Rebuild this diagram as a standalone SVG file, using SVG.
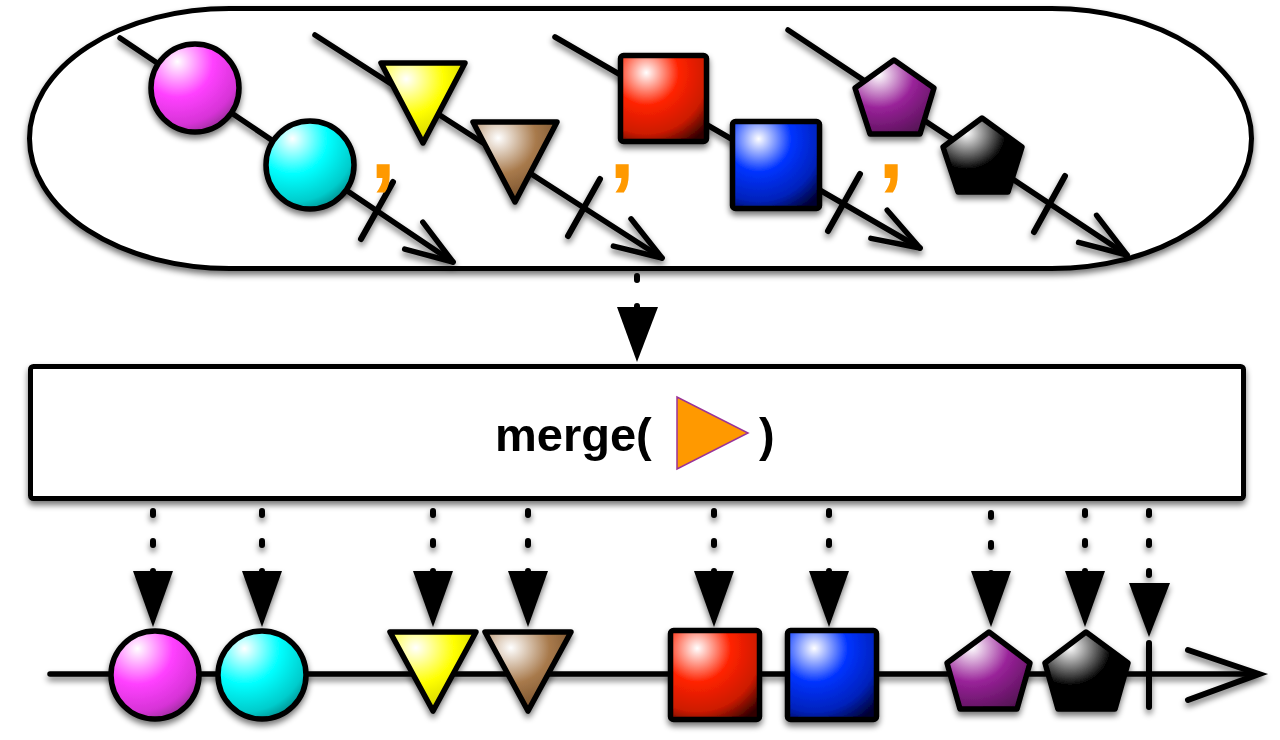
<svg xmlns="http://www.w3.org/2000/svg" width="1280" height="740" viewBox="0 0 1280 740">
<defs>
  <filter id="sh" x="-20%" y="-20%" width="140%" height="150%">
    <feGaussianBlur in="SourceAlpha" stdDeviation="3"/>
    <feOffset dx="0" dy="4" result="b"/>
    <feComponentTransfer><feFuncA type="linear" slope="0.55"/></feComponentTransfer>
    <feMerge><feMergeNode/><feMergeNode in="SourceGraphic"/></feMerge>
  </filter>
  <radialGradient id="gMag" cx="0.3" cy="0.2" r="0.9" fx="0.3" fy="0.2">
    <stop offset="0" stop-color="#ffffff"/><stop offset="0.45" stop-color="#ff40ff"/><stop offset="0.8" stop-color="#d633d6"/><stop offset="1" stop-color="#8a2a8a"/>
  </radialGradient>
  <radialGradient id="gCya" cx="0.3" cy="0.2" r="0.9" fx="0.3" fy="0.2">
    <stop offset="0" stop-color="#ffffff"/><stop offset="0.45" stop-color="#00ffff"/><stop offset="0.8" stop-color="#00cccc"/><stop offset="1" stop-color="#007f7f"/>
  </radialGradient>
  <radialGradient id="gYel" cx="0.3" cy="0.2" r="0.9" fx="0.3" fy="0.2">
    <stop offset="0" stop-color="#ffffff"/><stop offset="0.5" stop-color="#ffff00"/><stop offset="0.8" stop-color="#dddd00"/><stop offset="1" stop-color="#6f6f00"/>
  </radialGradient>
  <radialGradient id="gBro" cx="0.3" cy="0.2" r="0.9" fx="0.3" fy="0.2">
    <stop offset="0" stop-color="#ffffff"/><stop offset="0.5" stop-color="#a87a4c"/><stop offset="1" stop-color="#6a4522"/>
  </radialGradient>
  <radialGradient id="gRed" cx="0.3" cy="0.2" r="0.95" fx="0.3" fy="0.2">
    <stop offset="0" stop-color="#ffffff"/><stop offset="0.4" stop-color="#ff2200"/><stop offset="0.75" stop-color="#cc1a00"/><stop offset="1" stop-color="#330000"/>
  </radialGradient>
  <radialGradient id="gBlu" cx="0.3" cy="0.2" r="0.95" fx="0.3" fy="0.2">
    <stop offset="0" stop-color="#ffffff"/><stop offset="0.4" stop-color="#0033ff"/><stop offset="0.75" stop-color="#0022bb"/><stop offset="1" stop-color="#000033"/>
  </radialGradient>
  <radialGradient id="gPur" cx="0.3" cy="0.2" r="0.9" fx="0.3" fy="0.2">
    <stop offset="0" stop-color="#ffffff"/><stop offset="0.5" stop-color="#992299"/><stop offset="1" stop-color="#551155"/>
  </radialGradient>
  <radialGradient id="gBlk" cx="0.3" cy="0.2" r="0.9" fx="0.3" fy="0.2">
    <stop offset="0" stop-color="#ffffff"/><stop offset="0.55" stop-color="#000000"/><stop offset="1" stop-color="#000000"/>
  </radialGradient>
  <polygon id="dArrow" points="-20,0 20,0 0,56" fill="#000"/>
</defs>
<style>
  .ln{fill:none;stroke:#000;stroke-width:5.5;stroke-linecap:round;stroke-linejoin:round}
  .tk{fill:none;stroke:#000;stroke-width:6;stroke-linecap:round}
  .sh{stroke:#000;stroke-width:5.5;stroke-linejoin:round}
  .dash{fill:none;stroke:#000;stroke-width:6;stroke-linecap:round;stroke-dasharray:4 26}
  .cm{font-family:"Liberation Sans",Arial,sans-serif;font-weight:bold;font-size:92px;fill:#ff9900;text-anchor:middle}
  .lbl{font-family:"Liberation Sans",Arial,sans-serif;font-weight:bold;font-size:47px;fill:#000}
</style>

<rect width="1280" height="740" fill="#fff"/>

<g id="source-observable">
  <rect x="29.5" y="8.5" width="1222" height="260" rx="200" ry="130" fill="#fff" stroke="#000" stroke-width="5" filter="url(#sh)"/>
</g>

<g id="inner-1">
  <g filter="url(#sh)">
    <line class="ln" x1="120" y1="38" x2="453" y2="262"/>
    <polyline class="ln" points="422.8,222.1 453,262 404.7,249.1"/>
    <line class="tk" x1="361" y1="239" x2="393" y2="182"/>
  </g>
  <circle cx="195" cy="88" r="44" fill="url(#gMag)" class="sh" filter="url(#sh)"/>
  <circle cx="310" cy="165" r="44" fill="url(#gCya)" class="sh" filter="url(#sh)"/>
  <text class="cm" x="383" y="178">,</text>
</g>

<g id="inner-2">
  <g filter="url(#sh)">
    <line class="ln" x1="315" y1="35" x2="662" y2="258"/>
    <polyline class="ln" points="631,218.8 662,258 613.4,246.1"/>
    <line class="tk" x1="568" y1="236" x2="600" y2="179"/>
  </g>
  <polygon points="381,63 465,63 423,143" fill="url(#gYel)" class="sh" filter="url(#sh)"/>
  <polygon points="473,122 557,122 515,202" fill="url(#gBro)" class="sh" filter="url(#sh)"/>
  <text class="cm" x="622" y="178">,</text>
</g>

<g id="inner-3">
  <g filter="url(#sh)">
    <line class="ln" x1="555" y1="37" x2="920" y2="248"/>
    <polyline class="ln" points="887.2,210.2 920,248 870.9,238.4"/>
    <line class="tk" x1="828" y1="231" x2="860" y2="174"/>
  </g>
  <rect x="620.5" y="55.5" width="86" height="86" rx="3" fill="url(#gRed)" class="sh" filter="url(#sh)"/>
  <rect x="732.5" y="121.5" width="87" height="87" rx="3" fill="url(#gBlu)" class="sh" filter="url(#sh)"/>
  <text class="cm" x="891" y="178">,</text>
</g>

<g id="inner-4">
  <g filter="url(#sh)">
    <line class="ln" x1="788" y1="30" x2="1127" y2="255"/>
    <polyline class="ln" points="1096.6,215.3 1127,255 1078.6,242.4"/>
    <line class="tk" x1="1034" y1="232" x2="1065" y2="176"/>
  </g>
  <polygon points="894,60 934,88 920,134 870,134 855,88" fill="url(#gPur)" class="sh" filter="url(#sh)"/>
  <polygon points="982,118 1022,147 1008,192 958,192 943,147" fill="url(#gBlk)" class="sh" filter="url(#sh)"/>
</g>

<g id="connectors">
  <line class="dash" x1="637" y1="276" x2="637" y2="310"/>
  <polygon points="617,307 658,307 637,362" fill="#000"/>
  <g filter="url(#sh)">
    <line class="dash" x1="153" y1="511" x2="153" y2="575"/>
    <use href="#dArrow" x="153" y="571"/>
    <line class="dash" x1="262" y1="511" x2="262" y2="575"/>
    <use href="#dArrow" x="262" y="571"/>
    <line class="dash" x1="433" y1="511" x2="433" y2="575"/>
    <use href="#dArrow" x="433" y="571"/>
    <line class="dash" x1="528" y1="511" x2="528" y2="575"/>
    <use href="#dArrow" x="528" y="571"/>
    <line class="dash" x1="714" y1="511" x2="714" y2="575"/>
    <use href="#dArrow" x="714" y="571"/>
    <line class="dash" x1="829" y1="511" x2="829" y2="575"/>
    <use href="#dArrow" x="829" y="571"/>
    <line class="dash" x1="991" y1="513" x2="991" y2="575"/>
    <use href="#dArrow" x="991" y="571"/>
    <line class="dash" x1="1085" y1="511" x2="1085" y2="575"/>
    <use href="#dArrow" x="1085" y="571"/>
    <line class="dash" x1="1149" y1="511" x2="1149" y2="585"/>
    <polygon points="1129,583 1170,583 1149,637" fill="#000"/>
  </g>
</g>

<g id="merge-operator">
  <rect x="30.5" y="366.5" width="1213" height="132" rx="3" fill="#fff" stroke="#000" stroke-width="5" filter="url(#sh)"/>
  <text class="lbl" x="495" y="451">merge(</text>
  <polygon points="677,397 677,469 748,433" fill="#ff9900" stroke="#993399" stroke-width="1.5"/>
  <text class="lbl" x="759" y="451">)</text>
</g>

<g id="output-timeline">
  <g filter="url(#sh)">
    <line class="ln" x1="50" y1="674" x2="1258" y2="674"/>
    <polyline class="tk" points="1188,650 1259,674 1188,700" fill="none" stroke-linejoin="miter"/>
    <line class="tk" x1="1149" y1="643" x2="1149" y2="707"/>
  </g>
  <circle cx="155" cy="675" r="44" fill="url(#gMag)" class="sh" filter="url(#sh)"/>
  <circle cx="262" cy="675" r="44" fill="url(#gCya)" class="sh" filter="url(#sh)"/>
  <polygon points="390,632 476,632 433,711" fill="url(#gYel)" class="sh" filter="url(#sh)"/>
  <polygon points="485,632 571,632 528,711" fill="url(#gBro)" class="sh" filter="url(#sh)"/>
  <rect x="670.5" y="630.5" width="89" height="89" rx="3" fill="url(#gRed)" class="sh" filter="url(#sh)"/>
  <rect x="787.5" y="630.5" width="89" height="89" rx="3" fill="url(#gBlu)" class="sh" filter="url(#sh)"/>
  <polygon points="989,632 1030,663 1017,709 960,709 947,663" fill="url(#gPur)" class="sh" filter="url(#sh)"/>
  <polygon points="1086,632 1128,663 1115,709 1058,709 1045,663" fill="url(#gBlk)" class="sh" filter="url(#sh)"/>
</g>
</svg>
